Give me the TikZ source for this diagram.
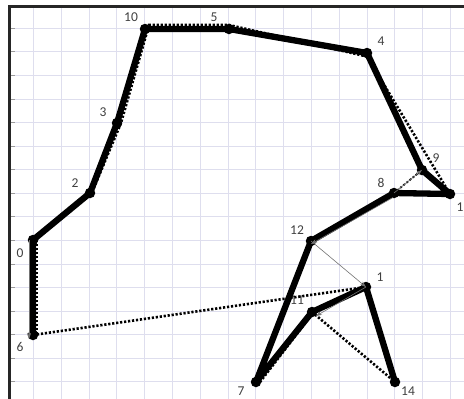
\documentclass[tikz,border=0pt]{standalone}
\usepackage{fontspec}
\setmainfont{Carlito}
\usetikzlibrary{arrows.meta}
\definecolor{gridc}{HTML}{DEDEEE}
\definecolor{lblc}{HTML}{404040}
\begin{document}
\begin{tikzpicture}[x=1pt,y=-1pt,
  gridline/.style={draw=gridc, line width=0.8pt},
  boldpath/.style={line width=6.3pt, line join=round, line cap=round},
  dotpath/.style={line width=2.6pt, dash pattern=on 2.2pt off 1.8pt},
  thinarrow/.style={draw=black!55, line width=0.6pt, -{Stealth[length=6pt,width=4pt]}},
  pt/.style={circle, fill=black, inner sep=0pt, minimum size=10.5pt},
  lbl/.style={text=lblc, font=\fontsize{13.5}{14}\selectfont, inner sep=0pt}]
\useasboundingbox (0,0) rectangle (464,399);
\fill[white] (0,0) rectangle (464,399);
% grid
\foreach \i in {0,...,15} \draw[gridline] (33.3+27.8*\i,7) -- (33.3+27.8*\i,399);
\foreach \i in {0,...,15} \draw[gridline] (10,28.3+23.56*\i) -- (464,28.3+23.56*\i);
\foreach \i in {0,...,15} \draw[black!40, line width=0.8pt] (10,28.3+23.56*\i) -- (15,28.3+23.56*\i);
% frame
\draw[black!85, line width=2.2pt] (9.5,399) -- (9.5,6.5) -- (464,6.5);
% points
\node[pt] (n0) at (33,240) {};
\node[pt] (n6) at (33,335) {};
\node[pt] (n2) at (90,193) {};
\node[pt] (n3) at (117,123) {};
\node[pt] (n10) at (145,29) {};
\node[pt] (n5) at (229,29) {};
\node[pt] (n4) at (367,53) {};
\node[pt] (n9) at (422,170) {};
\node[pt] (n1r) at (450,194) {};
\node[pt] (n8) at (394,193) {};
\node[pt] (n12) at (311,241) {};
\node[pt] (n1m) at (366,287) {};
\node[pt] (n11) at (312,312) {};
\node[pt] (n7) at (256,382) {};
\node[pt] (n14) at (395,382) {};
% labels
\node[lbl] (l0) at (20,253) {0};
\node[lbl] (l6) at (20,347) {6};
\node[lbl] (l2) at (75,183) {2};
\node[lbl] (l3) at (103,112) {3};
\node[lbl] (l10) at (131,17) {10};
\node[lbl] (l5) at (214,17) {5};
\node[lbl] (l4) at (381,41) {4};
\node[lbl] (l9) at (436,158) {9};
\node[lbl] (l1r) at (460,207) {1};
\node[lbl] (l8) at (381,183) {8};
\node[lbl] (l12) at (297,230) {12};
\node[lbl] (l1m) at (380,277) {1};
\node[lbl] (l11) at (297,300) {11};
\node[lbl] (l7) at (241,391) {7};
\node[lbl] (l14) at (408,391) {14};
% dotted overlay path
\draw[dotpath] ([xshift=3.5pt]n0.center) -- ([xshift=3.5pt]n6.center);
\draw[dotpath] (n6.center) -- (n1m.center);
\draw[dotpath] ([xshift=3pt,yshift=3pt]n0.center) -- ([xshift=3pt,yshift=3pt]n2.center)
  -- ([xshift=4pt]n3.center) -- ([xshift=4pt,yshift=4pt]n10.center) -- ([yshift=4pt]n5.center)
  -- ([yshift=-3.5pt]n4.center) -- (n1r.center);
\draw[dotpath] (n11.center) -- (n14.center);
\draw[dotpath] ([xshift=4pt]n7.center) -- ([xshift=4pt,yshift=3pt]n11.center);
\draw[dotpath, line width=1.8pt] (n8.center) -- (n9.center);
% bold path
\draw[boldpath] (n6.center) -- (n0.center) -- (n2.center) -- (n3.center) -- (n10.center)
  -- (n5.center) -- (n4.center) -- (n9.center) -- (n1r.center) -- (n8.center)
  -- (n12.center) -- (n7.center) -- (n11.center) -- (n1m.center) -- (n14.center);
% thin arrows
\draw[thinarrow] ([xshift=-1pt,yshift=-4.5pt]n8.center) -- ([yshift=-3pt]n12.center);
\draw[thinarrow] (n12.center) -- (n1m.center);
\draw[thinarrow] (n1m.center) -- ([xshift=4pt,yshift=-4pt]n11.center);
\draw[thinarrow] ([xshift=-4pt]n0.center) -- ([xshift=-4pt,yshift=-4pt]n6.center);
\draw[thinarrow] (n8.center) -- (n9.center);
\end{tikzpicture}
\end{document}
